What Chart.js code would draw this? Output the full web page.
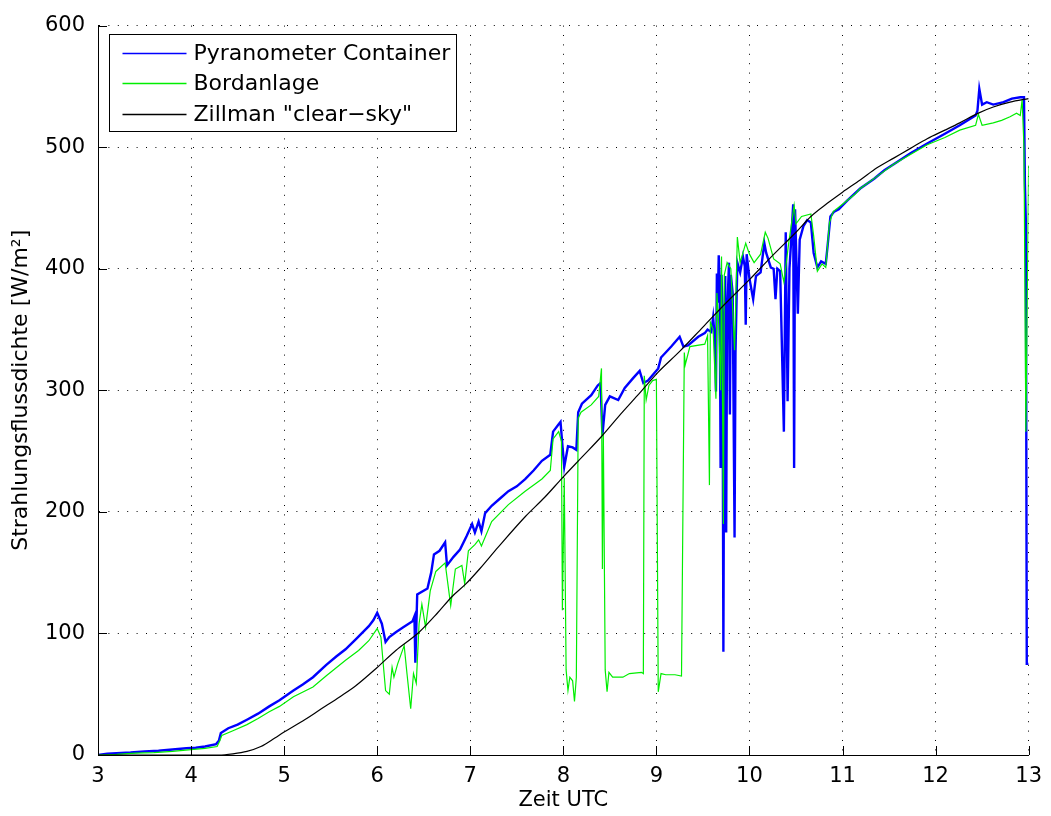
<!DOCTYPE html>
<html>
<head>
<meta charset="utf-8">
<script src="https://cdn.jsdelivr.net/npm/chart.js@4.4.0/dist/chart.umd.min.js"></script>
<style>
html, body { margin: 0; padding: 0; background: #fff; }
#wrap { width: 1051px; height: 816px; }
</style>
</head>
<body>
<div id="wrap"><canvas id="strahlung"></canvas></div>
<script>
// Zeit UTC [h], Strahlungsflussdichte [W/m2]
const seriesNames = ['Pyranometer Container', 'Bordanlage', 'Zillman "clear\u2212sky"'];
const seriesColors = ['#0000ff', '#00ee00', '#000000'];
const xTickRange = [3, 13];
const yTickRange = [0, 600];

const pyranometer = [[3.00,0],[3.10,1],[3.20,1.5],[3.35,2],[3.50,3],[3.65,3.5],[3.80,4.5],[3.95,5.5],[4.05,6],[4.15,7],
  [4.27,9],[4.30,12],[4.32,18],[4.40,22],[4.50,25],[4.60,29],[4.72,34],[4.84,40],[4.95,45],[5.10,53],
  [5.20,58],[5.31,64],[5.45,74],[5.56,81],[5.66,87],[5.78,96],[5.91,106],[5.96,111],[6.00,117],[6.05,108],
  [6.09,93],[6.13,97],[6.20,101],[6.28,105],[6.38,110],[6.40,114],[6.41,76],[6.43,132],[6.54,137],[6.58,150],
  [6.61,165],[6.67,168],[6.73,175],[6.75,156],[6.82,163],[6.89,169],[6.96,180],[7.02,190],[7.05,183],[7.09,192],
  [7.12,184],[7.16,199],[7.23,205],[7.32,211],[7.41,217],[7.50,221],[7.59,227],[7.68,234],[7.77,242],[7.86,247],
  [7.89,266],[7.95,272],[7.97,274],[7.99,255],[8.01,237],[8.05,254],[8.10,253],[8.14,251],[8.16,282],[8.20,289],
  [8.30,296],[8.37,304],[8.40,306],[8.42,263],[8.45,288],[8.50,295],[8.59,292],[8.66,302],[8.75,310],[8.82,316],
  [8.86,306],[8.91,308],[9.02,318],[9.05,327],[9.16,336],[9.25,344],[9.29,336],[9.34,337],[9.45,344],[9.52,347],
  [9.55,350],[9.59,348],[9.61,360],[9.63,340],[9.64,299],[9.65,396],[9.66,372],[9.67,411],[9.68,390],[9.69,236],
  [9.70,395],[9.71,360],[9.72,85],[9.73,340],[9.74,394],[9.75,183],[9.76,360],[9.78,405],[9.79,280],[9.80,395],
  [9.82,380],[9.84,179],[9.85,331],[9.87,405],[9.90,397],[9.93,410],[9.95,402],[9.96,354],[9.97,412],[10.00,392],
  [10.04,375],[10.07,394],[10.12,397],[10.16,421],[10.18,413],[10.23,401],[10.26,400],[10.28,375],[10.30,400],[10.33,398],
  [10.37,266],[10.39,430],[10.41,291],[10.43,400],[10.45,425],[10.47,453],[10.48,236],[10.49,449],[10.52,363],[10.54,424],
  [10.58,435],[10.62,440],[10.66,438],[10.69,413],[10.73,401],[10.77,406],[10.82,404],[10.84,419],[10.87,443],[10.91,447],
  [10.96,449],[11.05,456],[11.19,466],[11.34,474],[11.45,481],[11.55,486],[11.73,495],[11.91,503],[12.10,511],[12.26,518],
  [12.43,526],[12.45,530],[12.47,548],[12.50,535],[12.55,537],[12.62,535],[12.73,537],[12.82,540],[12.91,541],[12.95,541],
  [12.96,470],[12.97,440],[12.98,75],[13.00,75]];

const bordanlage = [[3.00,0],[3.20,0.5],[3.40,1.5],[3.60,2],[3.80,3],[4.00,4.5],[4.15,5.5],[4.28,7],[4.31,12],[4.33,16],
  [4.45,20],[4.60,25],[4.72,30],[4.84,35.5],[4.95,40],[5.10,48],[5.31,56],[5.45,65],[5.66,78],[5.80,86],
  [5.91,94],[6.00,104],[6.04,97],[6.09,53],[6.13,50],[6.16,72],[6.18,64],[6.22,75],[6.29,90],[6.32,67],
  [6.36,38],[6.39,67],[6.42,59],[6.45,108],[6.48,124],[6.52,105],[6.57,135],[6.63,151],[6.73,158],[6.79,123],
  [6.84,153],[6.91,156],[6.94,141],[6.98,168],[7.05,173],[7.09,177],[7.12,172],[7.23,192],[7.41,206],[7.59,217],
  [7.77,227],[7.86,234],[7.89,260],[7.95,266],[7.98,258],[7.99,119],[8.01,228],[8.03,70],[8.05,53],[8.07,64],
  [8.10,61],[8.12,44],[8.14,64],[8.16,277],[8.19,282],[8.30,288],[8.38,295],[8.41,318],[8.42,153],[8.43,265],
  [8.45,70],[8.47,52],[8.49,68],[8.53,64],[8.64,64],[8.71,67],[8.84,68],[8.86,67],[8.87,312],[8.89,292],
  [8.92,304],[8.96,308],[9.00,309],[9.02,52],[9.05,67],[9.10,66],[9.20,66],[9.27,65],[9.30,331],[9.31,321],
  [9.36,336],[9.52,338],[9.55,345],[9.57,222],[9.58,356],[9.61,350],[9.64,293],[9.65,380],[9.67,354],[9.69,300],
  [9.70,410],[9.72,190],[9.73,395],[9.76,405],[9.80,400],[9.84,333],[9.87,426],[9.90,405],[9.96,421],[10.00,412],
  [10.05,405],[10.12,412],[10.17,430],[10.20,425],[10.26,408],[10.33,404],[10.37,389],[10.42,420],[10.48,452],[10.50,437],
  [10.56,443],[10.66,445],[10.69,427],[10.73,398],[10.78,404],[10.82,401],[10.86,438],[10.90,447],[11.00,453],[11.13,461],
  [11.19,466],[11.39,477],[11.55,486],[11.73,494],[11.91,502],[12.10,508],[12.26,514],[12.43,518],[12.46,527],[12.50,518],
  [12.62,520],[12.71,522],[12.80,525],[12.87,528],[12.91,526],[12.93,539],[12.95,500],[12.97,266],[13.00,485]];

const clearSky = [[3.00,0],[4.30,0],[4.45,1],[4.60,3],[4.75,7],[4.90,14],[5.00,19],[5.20,28],[5.40,38],[5.60,48],
  [5.77,57],[6.00,72],[6.20,86],[6.45,101],[6.65,117],[6.80,130],[6.95,140.5],[7.10,153],[7.30,171],[7.59,196],
  [7.80,212],[7.99,228],[8.20,245],[8.41,262],[8.60,279],[8.80,296],[9.02,315],[9.25,332],[9.50,352],[9.75,372],
  [10.00,391],[10.25,411],[10.50,430],[10.66,443],[10.84,454],[11.00,463],[11.19,473],[11.37,483],[11.55,491],[11.73,499],
  [11.91,507],[12.10,514],[12.26,520],[12.46,528],[12.62,533],[12.80,537],[13.00,540]];

const toPoints = arr => arr.map(([x, y]) => ({x, y}));
const FONT = '"DejaVu Sans", sans-serif';

// ticks inside the axes and a MATLAB-like legend box
const axesDecor = {
  id: 'axesDecor',
  afterDraw(chart) {
    const {ctx, chartArea: a, scales: {x, y}} = chart;
    ctx.save();
    ctx.strokeStyle = '#000';
    ctx.lineWidth = 1;
    ctx.beginPath();
    x.ticks.forEach(t => {
      const px = Math.round(x.getPixelForValue(t.value)) + 0.5;
      ctx.moveTo(px, a.bottom);
      ctx.lineTo(px, a.bottom - 9);
    });
    y.ticks.forEach(t => {
      const py = Math.round(y.getPixelForValue(t.value)) + 0.5;
      ctx.moveTo(a.left, py);
      ctx.lineTo(a.left + 9, py);
    });
    ctx.stroke();

    ctx.font = '22px ' + FONT;
    const w = Math.max(...seriesNames.map(l => ctx.measureText(l).width));
    const bx = Math.round(a.left + 11) + 0.5, by = Math.round(a.top + 8) + 0.5;
    const bw = Math.round(13 + 64 + 7 + w + 6), bh = 97;
    ctx.fillStyle = '#fff';
    ctx.fillRect(bx, by, bw, bh);
    ctx.strokeStyle = '#000';
    ctx.lineWidth = 1;
    ctx.strokeRect(bx, by, bw, bh);
    seriesNames.forEach((label, i) => {
      const cy = Math.round(by + 18 + i * 30.5) + 0.5;
      ctx.strokeStyle = seriesColors[i];
      ctx.lineWidth = 1.3;
      ctx.beginPath();
      ctx.moveTo(bx + 13, cy);
      ctx.lineTo(bx + 77, cy);
      ctx.stroke();
      ctx.fillStyle = '#000';
      ctx.textBaseline = 'middle';
      ctx.fillText(label, bx + 84, cy + 1);
    });
    ctx.restore();
  }
};

const gridOpts = {color: '#000', lineWidth: 1, drawTicks: false};
const borderOpts = {display: true, color: '#000', width: 1, dash: [1, 8.4]};

new Chart(document.getElementById('strahlung'), {
  type: 'line',
  data: {
    datasets: [
      {label: seriesNames[0], data: toPoints(pyranometer), borderColor: seriesColors[0], borderWidth: 2.4, order: 3},
      {label: seriesNames[1], data: toPoints(bordanlage), borderColor: seriesColors[1], borderWidth: 1.2, order: 2},
      {label: seriesNames[2], data: toPoints(clearSky), borderColor: seriesColors[2], borderWidth: 1.2, order: 1,
        cubicInterpolationMode: 'monotone'}
    ]
  },
  options: {
    responsive: true,
    maintainAspectRatio: false,
    animation: false,
    parsing: false,
    elements: {point: {radius: 0}, line: {tension: 0}},
    layout: {padding: {top: 22, right: 19, left: 0, bottom: 0}},
    plugins: {legend: {display: false}, tooltip: {enabled: false}},
    scales: {
      x: {
        type: 'linear',
        min: xTickRange[0], max: xTickRange[1],
        ticks: {stepSize: 1, color: '#000', font: {family: FONT, size: 21}, padding: 9, maxRotation: 0},
        grid: gridOpts,
        border: borderOpts,
        title: {display: true, text: 'Zeit UTC', color: '#000', font: {family: FONT, size: 21}, padding: {top: 0, bottom: 3}},
        afterFit(s) { s.height = 61; }
      },
      y: {
        type: 'linear',
        min: yTickRange[0], max: yTickRange[1],
        ticks: {stepSize: 100, color: '#000', font: {family: FONT, size: 21}, padding: 13},
        grid: gridOpts,
        border: borderOpts,
        title: {display: true, text: 'Strahlungsflussdichte [W/m\u00b2]', color: '#000', font: {family: FONT, size: 22}, padding: {top: 8, bottom: 0}},
        afterFit(s) { s.width = 98; }
      }
    }
  },
  plugins: [axesDecor]
});
</script>
</body>
</html>
